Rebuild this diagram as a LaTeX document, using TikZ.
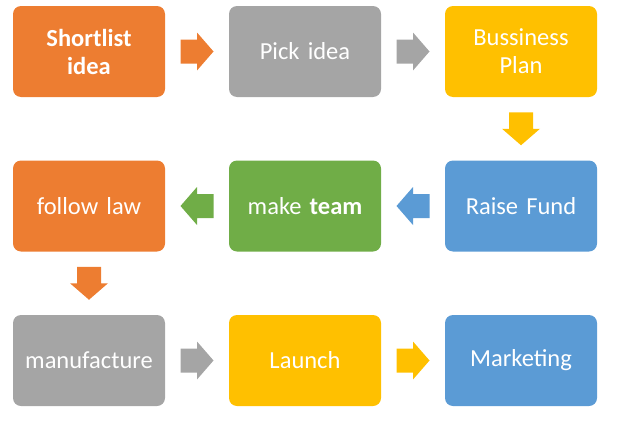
\documentclass[tikz,border=0pt]{standalone}
\usepackage{fontspec}
\setmainfont{Carlito}
\usetikzlibrary{calc}

\definecolor{accOrange}{HTML}{ED7D31}
\definecolor{accGray}{HTML}{A5A5A5}
\definecolor{accGold}{HTML}{FFC000}
\definecolor{accBlue}{HTML}{5B9BD5}
\definecolor{accGreen}{HTML}{70AD47}

\tikzset{
  stepbox/.style={rectangle, rounded corners=8pt, draw=none,
    minimum width=152pt, minimum height=91pt, inner sep=2pt,
    text=white, align=center, text width=146pt,
    font=\fontsize{24.5}{28}\selectfont},
  % a block arrow pointing along +x, centred on its origin
  blockarrow/.pic={
    \fill (-16.5,-12) -- (0,-12) -- (0,-19) -- (16.5,0)
          -- (0,19) -- (0,12) -- (-16.5,12) -- cycle;
  },
}

\begin{document}
\begin{tikzpicture}[x=1pt,y=-1pt]
\useasboundingbox (0,0) rectangle (629,423);

% row 1
\node[stepbox, fill=accOrange] (s1) at (89,51.5) {\bfseries Shortlist\\idea};
\node[stepbox, fill=accGray]   (s2) at (305,51.5) {Pick idea};
\node[stepbox, fill=accGold]   (s3) at (521,51.5) {Bussiness\\Plan};
% row 2
\node[stepbox, fill=accBlue]   (s4) at (521,206) {Raise Fund};
\node[stepbox, fill=accGreen]  (s5) at (305,206) {make \textbf{team}};
\node[stepbox, fill=accOrange] (s6) at (89,206) {follow law};
% row 3
\node[stepbox, fill=accGray]   (s7) at (89,360.5) {manufacture};
\node[stepbox, fill=accGold]   (s8) at (305,360.5) {Launch};
\node[stepbox, fill=accBlue]   (s9) at (521,360.5) {Marketing};

% centres of the gaps between consecutive steps
\coordinate (a12) at ($(s1.east)!0.5!(s2.west)$);
\coordinate (a23) at ($(s2.east)!0.5!(s3.west)$);
\coordinate (a34) at ($(s3.south)!0.5!(s4.north)$);
\coordinate (a45) at ($(s4.west)!0.5!(s5.east)$);
\coordinate (a56) at ($(s5.west)!0.5!(s6.east)$);
\coordinate (a67) at ($(s6.south)!0.5!(s7.north)$);
\coordinate (a78) at ($(s7.east)!0.5!(s8.west)$);
\coordinate (a89) at ($(s8.east)!0.5!(s9.west)$);

% block arrows
\pic[fill=accOrange]            at (a12) {blockarrow};
\pic[fill=accGray]              at (a23) {blockarrow};
\pic[fill=accGold, rotate=-90]  at (a34) {blockarrow};
\pic[fill=accBlue, rotate=180]  at (a45) {blockarrow};
\pic[fill=accGreen, rotate=180] at (a56) {blockarrow};
\pic[fill=accOrange, rotate=-90] at (a67) {blockarrow};
\pic[fill=accGray]              at (a78) {blockarrow};
\pic[fill=accGold]              at (a89) {blockarrow};
\end{tikzpicture}
\end{document}
